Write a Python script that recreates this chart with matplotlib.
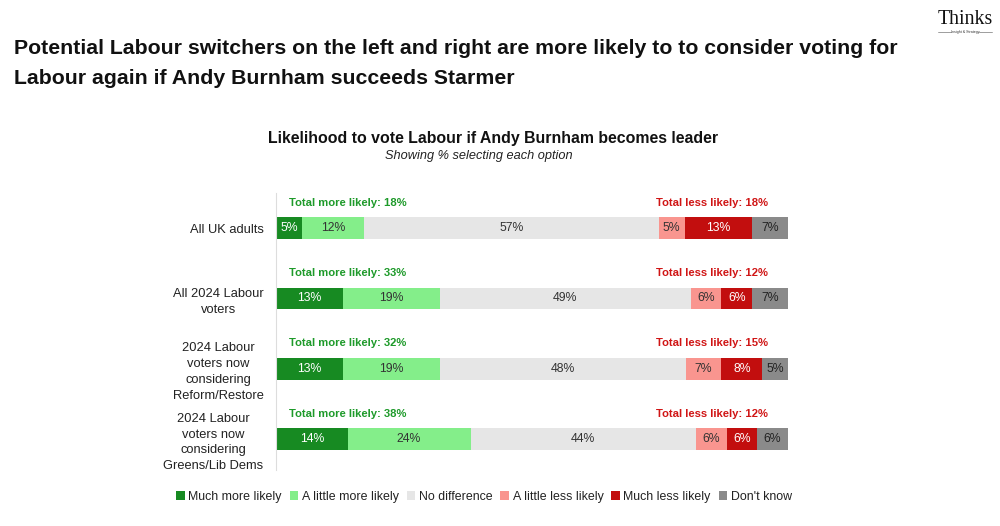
import matplotlib
matplotlib.use("Agg")
import matplotlib.pyplot as plt
import numpy as np

plt.rcParams['font.family'] = ['Liberation Sans', 'DejaVu Sans']

categories = ["All UK adults", "All 2024 Labour\nvoters",
              "2024 Labour\nvoters now\nconsidering\nReform/Restore",
              "2024 Labour\nvoters now\nconsidering\nGreens/Lib Dems"]
series_names = ["Much more likely", "A little more likely", "No difference",
                "A little less likely", "Much less likely", "Don't know"]
much_more = [5, 13, 13, 14]
little_more = [12, 19, 19, 24]
no_diff = [57, 49, 48, 44]
little_less = [5, 6, 7, 6]
much_less = [13, 6, 8, 6]
dont_know = [7, 7, 5, 6]
total_more = [18, 33, 32, 38]
total_less = [18, 12, 15, 12]

series = [much_more, little_more, no_diff, little_less, much_less, dont_know]
colors = ["#178A22", "#84EE8A", "#E6E6E6", "#F9958F", "#C20E0E", "#8A8A8A"]
text_colors = ["white", "#333333", "#333333", "#333333", "white", "#222222"]

fig = plt.figure(figsize=(10, 5.26), dpi=100)
W, H = 1000, 526

def fx(px): return px / W
def fy(py): return 1 - py / H

ax = fig.add_axes([fx(276), fy(470), fx(788) - fx(276), fy(193) - fy(470)])
y = np.arange(len(categories))
row_tot = np.sum(np.array(series, dtype=float), axis=0)
left = np.zeros(len(categories))
bar_h = 0.31
for vals, c, tc in zip(series, colors, text_colors):
    vals = np.array(vals, dtype=float)
    widths = vals / row_tot * 100
    ax.barh(y, widths, left=left, height=bar_h, color=c, edgecolor='none')
    for yi, (l, w, v) in enumerate(zip(left, widths, vals)):
        ax.text(l + w / 2, yi, f"{int(v)}%", ha='center', va='center',
                fontsize=8.8, color=tc)
    left += widths

for yi in y:
    ax.text(2.5, yi - 0.36, f"Total more likely: {total_more[yi]}%", ha='left',
            va='center', fontsize=8.1, fontweight='bold', color='#1E9A2A')
    ax.text(96.1, yi - 0.36, f"Total less likely: {total_less[yi]}%", ha='right',
            va='center', fontsize=8.1, fontweight='bold', color='#D01515')

ax.set_xlim(0, 100)
ax.set_ylim(3.44, -0.5)
for s in ['top', 'right', 'bottom']:
    ax.spines[s].set_visible(False)
ax.spines['left'].set_color('#DDDDDD')
ax.spines['left'].set_linewidth(0.8)
ax.set_xticks([])
ax.set_yticks(y)
ax.set_yticklabels(categories, fontsize=9.3, color='#222222', multialignment='center',
                   linespacing=1.42)
ax.tick_params(axis='y', length=0, pad=9)

# Titles
fig.text(fx(14), fy(48), "Potential Labour switchers on the left and right are more likely to to consider voting for",
         fontsize=15.3, fontweight='bold', ha='left', va='center', color='#111111')
fig.text(fx(14), fy(78), "Labour again if Andy Burnham succeeds Starmer",
         fontsize=15.3, fontweight='bold', ha='left', va='center', color='#111111')
fig.text(fx(493), fy(138), "Likelihood to vote Labour if Andy Burnham becomes leader",
         fontsize=11.4, fontweight='bold', ha='center', va='center', color='#111111')
fig.text(fx(479), fy(156), "Showing % selecting each option",
         fontsize=9.2, style='italic', ha='center', va='center', color='#222222')

# Logo
fig.text(fx(965), fy(20), "Thinks", family=['Liberation Serif', 'DejaVu Serif'],
         fontsize=14.3, ha='center', va='center', color='#111111')
fig.text(fx(965), fy(32), "Insight & Strategy", fontsize=2.6, ha='center', va='center',
         color='#333333')
fig.add_artist(plt.Line2D([fx(938), fx(951)], [fy(32), fy(32)], color='#555555', lw=0.4))
fig.add_artist(plt.Line2D([fx(979), fx(992)], [fy(32), fy(32)], color='#555555', lw=0.4))

# Legend
from matplotlib.patches import Patch
handles = [Patch(facecolor=c, edgecolor='none') for c in colors]
leg = fig.legend(handles, series_names, loc='center', bbox_to_anchor=(fx(484), fy(497)),
                 ncol=6, frameon=False, fontsize=8.9, handlelength=0.7, handleheight=0.7,
                 handletextpad=0.3, columnspacing=0.62)
for t in leg.get_texts():
    t.set_color('#222222')

fig.savefig("out.png", dpi=100)
